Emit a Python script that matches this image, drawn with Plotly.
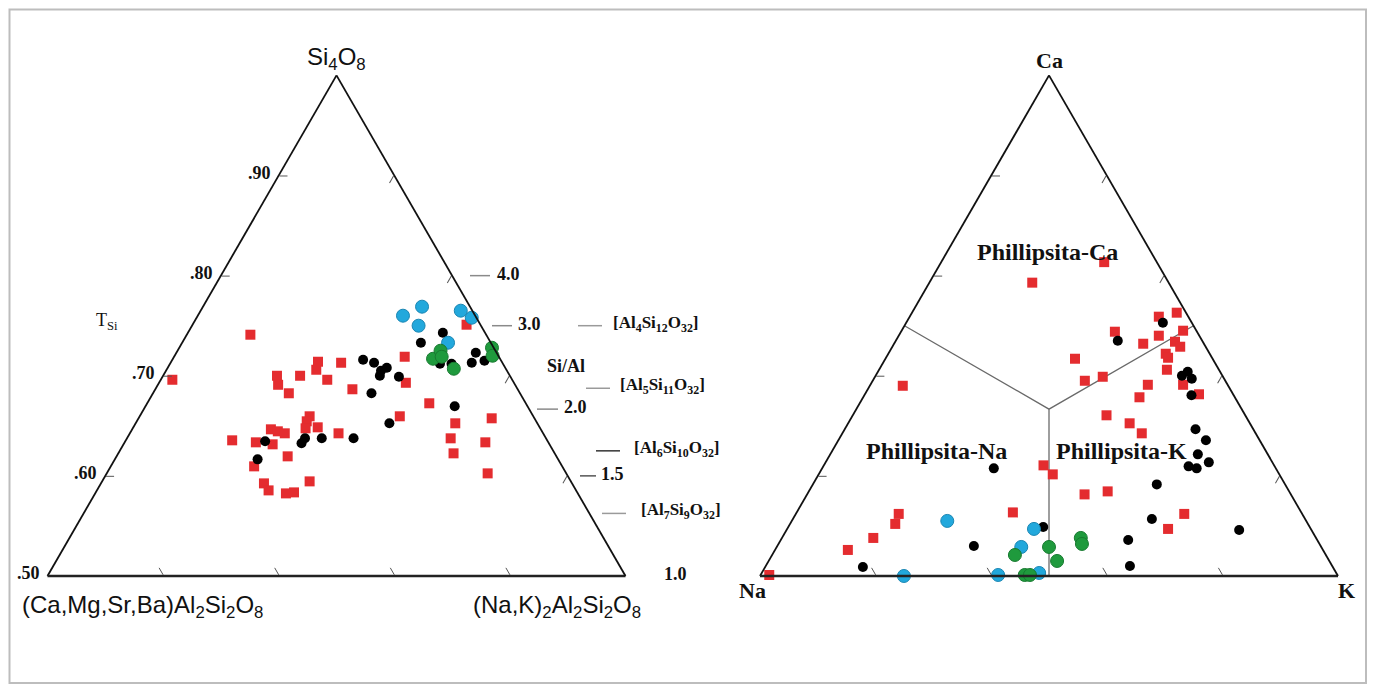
import plotly.graph_objects as go

W_PX, H_PX = 1375, 685

# ---------------- Left diagram: Si4O8 (a) - (Ca,Mg,Sr,Ba)Al2Si2O8 (b) - (Na,K)2Al2Si2O8 (c)
left_red_si = [0.392, 0.482, 0.400, 0.382, 0.365, 0.400, 0.428, 0.412, 0.392, 0.319,
               0.309, 0.295, 0.297, 0.293, 0.289, 0.285, 0.271, 0.267, 0.263, 0.239,
               0.219, 0.185, 0.171, 0.165, 0.167, 0.189, 0.426, 0.373, 0.438, 0.386,
               0.345, 0.319, 0.285, 0.502, 0.305, 0.275, 0.245, 0.315, 0.267, 0.205]
left_red_nak = [0.020, 0.110, 0.197, 0.208, 0.235, 0.237, 0.254, 0.259, 0.288, 0.294,
                0.294, 0.299, 0.319, 0.240, 0.254, 0.268, 0.184, 0.227, 0.258, 0.296,
                0.248, 0.282, 0.297, 0.330, 0.343, 0.359, 0.295, 0.341, 0.399, 0.427,
                0.488, 0.450, 0.361, 0.474, 0.553, 0.560, 0.580, 0.611, 0.624, 0.659]
left_black_si = [0.269, 0.233, 0.265, 0.275, 0.275, 0.275, 0.432, 0.426, 0.416, 0.410, 0.400,
                 0.398, 0.365, 0.305, 0.486, 0.466, 0.424, 0.424, 0.339, 0.446, 0.426, 0.430]
left_black_nak = [0.242, 0.247, 0.307, 0.308, 0.337, 0.392, 0.330, 0.352, 0.379, 0.372, 0.375,
                  0.409, 0.378, 0.439, 0.441, 0.413, 0.467, 0.487, 0.535, 0.518, 0.521, 0.541]
left_blue_si = [0.520, 0.538, 0.500, 0.530, 0.516, 0.466]
left_blue_nak = [0.355, 0.379, 0.392, 0.450, 0.476, 0.460]
left_green_si = [0.434, 0.450, 0.438, 0.414, 0.456, 0.440]
left_green_nak = [0.450, 0.455, 0.463, 0.496, 0.541, 0.550]

tsi_ticks = [0.0, 0.2, 0.4, 0.6, 0.8]
tsi_labels = [".50", ".60", ".70", ".80", ".90"]
si_al_ratios = [4.0, 3.0, 2.0, 1.5, 1.0]
si_al_labels = ["4.0", "3.0", "2.0", "1.5", "1.0"]
formula_al = [4, 5, 6, 7]
formula_si = [12, 11, 10, 9]

# ---------------- Right diagram: Ca (a) - Na (b) - K (c)
right_red_ca = [0.586, 0.627, 0.380, 0.518, 0.526, 0.488, 0.480, 0.490, 0.464, 0.468,
                0.458, 0.444, 0.436, 0.412, 0.434, 0.390, 0.398, 0.382, 0.357, 0.382,
                0.363, 0.321, 0.305, 0.285, 0.221, 0.203, 0.163, 0.169, 0.127, 0.124,
                0.094, 0.002, 0.052, 0.076, 0.104, 0.124]
right_red_k = [0.178, 0.282, 0.057, 0.431, 0.458, 0.370, 0.450, 0.487, 0.431, 0.484,
               0.498, 0.480, 0.488, 0.498, 0.328, 0.367, 0.394, 0.480, 0.478, 0.541,
               0.578, 0.439, 0.487, 0.518, 0.380, 0.405, 0.480, 0.517, 0.374, 0.672,
               0.659, 0.015, 0.126, 0.158, 0.182, 0.178]
right_black_ca = [0.506, 0.470, 0.400, 0.408, 0.394, 0.361, 0.293, 0.271, 0.243, 0.227, 0.219,
                  0.215, 0.215, 0.183, 0.114, 0.092, 0.072, 0.020, 0.098, 0.060, 0.018]
right_black_k = [0.444, 0.384, 0.530, 0.536, 0.550, 0.566, 0.607, 0.636, 0.636, 0.663, 0.632,
                 0.648, 0.297, 0.595, 0.621, 0.783, 0.601, 0.630, 0.441, 0.340, 0.169]
right_blue_ca = [0.094, 0.058, 0.002, 0.006, 0.110, 0.000]
right_blue_k = [0.427, 0.423, 0.411, 0.480, 0.269, 0.249]
right_green_ca = [0.058, 0.030, 0.042, 0.076, 0.064, 0.002, 0.002]
right_green_k = [0.471, 0.499, 0.420, 0.517, 0.525, 0.457, 0.466]

# field boundaries (Ca, Na, K) meeting at the centroid
boundary_ca = [0.5, 1/3, 0.5, None, 1/3, 0.0]
boundary_na = [0.5, 1/3, 0.0, None, 1/3, 0.5]
boundary_k = [0.0, 1/3, 0.5, None, 1/3, 0.5]

RED, BLACK, BLUE, GREEN = "#e42c2f", "#000000", "#22a8dc", "#1f9a3d"

# ---------------- geometry (layout only); page body adds an 8 px offset
OFF = 8
TRI_W = 578.0
TRI_H = TRI_W * 3 ** 0.5 / 2
L_CX, R_CX, CY = 336.5, 1049.0, 325.7
BOTTOM = CY + TRI_H / 2
L_LEFT = L_CX - TRI_W / 2


def paper(x, y):
    return (x - OFF) / W_PX, 1 - (y - OFF) / H_PX


def domain(cx):
    hw = TRI_W / 2 / W_PX
    xc = (cx - OFF) / W_PX
    yc = 1 - (CY - OFF) / H_PX
    return dict(x=[xc - hw, xc + hw], y=[yc - 0.40, yc + 0.40])


def rest(a, c):
    return [None if (x is None) else 1 - x - y for x, y in zip(a, c)]


fig = go.Figure()


def add_pts(sub, a, c, color, symbol, size, line_color=None):
    fig.add_trace(go.Scatterternary(
        subplot=sub, a=a, c=c, b=rest(a, c), mode="markers", cliponaxis=False,
        marker=dict(color=color, symbol=symbol, size=size,
                    line=dict(color=line_color or color, width=1 if line_color else 0)),
        showlegend=False, hoverinfo="skip"))


add_pts("ternary", left_red_si, left_red_nak, RED, "square", 10)
add_pts("ternary", left_black_si, left_black_nak, BLACK, "circle", 10)
add_pts("ternary", left_blue_si, left_blue_nak, BLUE, "circle", 13, "#1a86b3")
add_pts("ternary", left_green_si, left_green_nak, GREEN, "circle", 13, "#187a30")

fig.add_trace(go.Scatterternary(
    subplot="ternary2", a=boundary_ca, b=boundary_na, c=boundary_k, mode="lines",
    line=dict(color="#6a6a6a", width=1.3), showlegend=False, hoverinfo="skip",
    connectgaps=False))
add_pts("ternary2", right_red_ca, right_red_k, RED, "square", 10)
add_pts("ternary2", right_black_ca, right_black_k, BLACK, "circle", 10)
add_pts("ternary2", right_blue_ca, right_blue_k, BLUE, "circle", 13, "#1a86b3")
add_pts("ternary2", right_green_ca, right_green_k, GREEN, "circle", 13, "#187a30")

SERIF = "Liberation Serif"
SANS = "Liberation Sans"

axis_base = dict(showgrid=False, linecolor="#111", linewidth=1.8, ticks="inside",
                 ticklen=8, tickwidth=1.2, tickcolor="#555", showticklabels=False,
                 tickmode="array", tickvals=[0.2, 0.4, 0.6, 0.8], title=dict(text=""), min=0)
bottom_axis = dict(axis_base)
bottom_axis.update(linewidth=2.4, linecolor="#222")

fig.update_layout(
    width=W_PX, height=H_PX, margin=dict(l=0, r=0, t=0, b=0),
    paper_bgcolor="white", showlegend=False,
    ternary=dict(domain=domain(L_CX), sum=1, bgcolor="white",
                 aaxis=dict(axis_base), baxis=bottom_axis, caxis=dict(axis_base)),
    ternary2=dict(domain=domain(R_CX), sum=1, bgcolor="white",
                  aaxis=dict(axis_base), baxis=dict(bottom_axis), caxis=dict(axis_base)),
)

ann = []
shapes = []


def text(x, y, s, size, family, xanchor="center", color="#111"):
    px_, py_ = paper(x, y)
    ann.append(dict(x=px_, y=py_, xref="paper", yref="paper", text=s, showarrow=False,
                    xanchor=xanchor, yanchor="middle",
                    font=dict(family=family, size=size, color=color)))


def dash(x0, x1, y, color="#8a8a8a", width=1.5):
    a0, b0 = paper(x0, y)
    a1, b1 = paper(x1, y)
    shapes.append(dict(type="line", xref="paper", yref="paper", x0=a0, y0=b0, x1=a1, y1=b1,
                       line=dict(color=color, width=width)))


# T_Si scale labels along the left edge
for t, lab in zip(tsi_ticks, tsi_labels):
    ex = L_LEFT + t * TRI_W / 2
    ey = BOTTOM - t * TRI_H
    text(ex - 6, ey - 3, "<b>%s</b>" % lab, 18, SERIF, xanchor="right")

# left corner labels
text(L_CX, 58, "Si<sub>4</sub>O<sub>8</sub>", 24, SANS)
text(142, 606, "(Ca,Mg,Sr,Ba)Al<sub>2</sub>Si<sub>2</sub>O<sub>8</sub>", 24, SANS)
text(557, 606, "(Na,K)<sub>2</sub>Al<sub>2</sub>Si<sub>2</sub>O<sub>8</sub>", 24, SANS)
text(107, 321, "T<sub>Si</sub>", 18, SERIF)
text(566, 366, "<b>Si/Al</b>", 18, SERIF)

# Si/Al ratio scale along the right edge
ratio_dash_x = [(470, 490), (492, 512), (537, 558), (580, 596), None]
ratio_text_x = [495, 516, 562, 599, 662]
for r, lab, dx, tx in zip(si_al_ratios, si_al_labels, ratio_dash_x, ratio_text_x):
    a_val = 2 * (r / (1 + r)) - 1
    y = BOTTOM - a_val * TRI_H
    if dx:
        dash(dx[0], dx[1], y, color="#555" if r == 1.5 else "#8a8a8a")
    text(tx, y - 2, "<b>%s</b>" % lab, 18, SERIF, xanchor="left")

formula_dash_x = [(578, 602), (586, 610), (596, 620), (602, 626)]
formula_text_x = [611, 618, 632, 639]
for al, si, dx, tx in zip(formula_al, formula_si, formula_dash_x, formula_text_x):
    a_val = 2 * (si / (si + al)) - 1
    y = BOTTOM - a_val * TRI_H
    dash(dx[0], dx[1], y, color="#333" if al == 6 else "#9a9a9a")
    text(tx, y - 2, "<b>[Al<sub>%d</sub>Si<sub>%d</sub>O<sub>32</sub>]</b>" % (al, si),
         17, SERIF, xanchor="left")

# right diagram labels
text(R_CX, 60, "<b>Ca</b>", 22, SERIF)
text(752, 590, "<b>Na</b>", 22, SERIF)
text(1346, 590, "<b>K</b>", 22, SERIF)
text(1047, 252, "<b>Phillipsita-Ca</b>", 24, SERIF)
text(936, 451, "<b>Phillipsita-Na</b>", 24, SERIF)
text(1121, 451, "<b>Phillipsita-K</b>", 24, SERIF)

# outer frame (kept just inside the drawable page area)
fx0, fy0 = paper(9.5, 9.5)
fx1, fy1 = paper(1366, 683)
shapes.append(dict(type="rect", xref="paper", yref="paper", x0=fx0, y0=fy1, x1=fx1, y1=fy0,
                   line=dict(color="#bdbdbd", width=2), layer="below"))

fig.update_layout(annotations=ann, shapes=shapes)
fig.write_html("out.html")
